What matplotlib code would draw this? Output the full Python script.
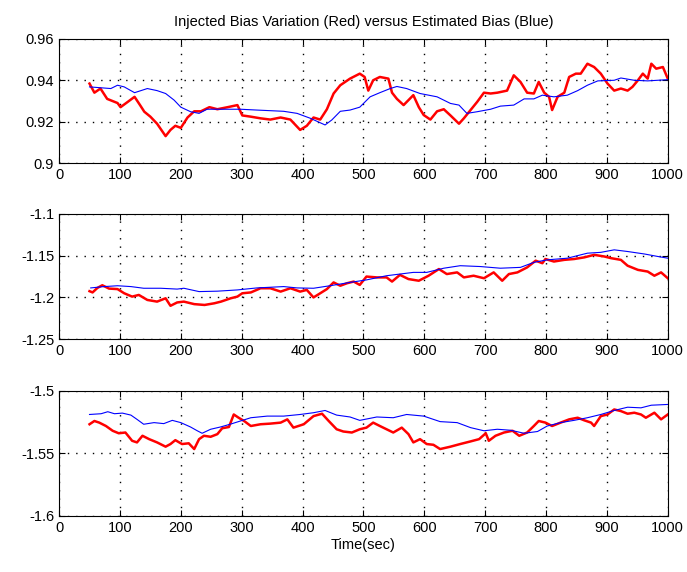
"""
Injected bias variation vs estimated bias, three stacked MATLAB-style panels
"""

import matplotlib as mpl
import matplotlib.pyplot as plt

mpl.use("Agg")

plt.rcParams["font.family"] = ["Liberation Sans Narrow", "Liberation Sans", "DejaVu Sans"]
plt.rcParams["axes.unicode_minus"] = False

# ---- panel 1 ----
red1_t = [50, 58, 68, 79, 96, 101, 113, 124, 133, 140, 150, 161, 175, 183, 191, 200,
          211, 222, 233, 247, 260, 277, 293, 301, 315, 331, 347, 364, 380, 396, 407,
          418, 429, 440, 451, 462, 478, 494, 502, 508, 516, 527, 541, 547, 555, 566,
          574, 582, 591, 599, 610, 621, 632, 643, 657, 665, 676, 687, 698, 709, 720,
          736, 747, 758, 769, 780, 788, 797, 805, 810, 819, 830, 838, 849, 857, 868,
          879, 890, 901, 912, 923, 934, 942, 951, 959, 967, 973, 981, 992, 1000]
red1_v = [0.9384, 0.934, 0.936, 0.931, 0.929, 0.927, 0.9296, 0.932, 0.928, 0.9248,
          0.9224, 0.919, 0.913, 0.916, 0.918, 0.917, 0.922, 0.925, 0.925, 0.927,
          0.926, 0.927, 0.928, 0.923, 0.9224, 0.9216, 0.921, 0.922, 0.921, 0.916,
          0.918, 0.922, 0.921, 0.926, 0.9336, 0.9376, 0.9408, 0.9432, 0.9416, 0.935,
          0.940, 0.9416, 0.9408, 0.934, 0.931, 0.928, 0.9304, 0.9328, 0.927, 0.9232,
          0.921, 0.925, 0.926, 0.923, 0.919, 0.9216, 0.9256, 0.9296, 0.934, 0.9336,
          0.934, 0.935, 0.9424, 0.9392, 0.934, 0.9336, 0.9392, 0.934, 0.932, 0.9256,
          0.932, 0.934, 0.9416, 0.9432, 0.9432, 0.948, 0.9464, 0.9432, 0.9384, 0.935,
          0.936, 0.935, 0.9368, 0.940, 0.9432, 0.9408, 0.948, 0.9456, 0.9464, 0.9408]
blue1_t = [50, 85, 96, 107, 124, 145, 161, 175, 189, 200, 216, 230, 243, 270, 298,
           325, 369, 391, 413, 437, 448, 462, 478, 494, 511, 527, 544, 555, 571, 593,
           621, 643, 657, 670, 687, 709, 725, 747, 764, 780, 794, 813, 835, 852, 868,
           885, 912, 923, 945, 967, 1000]
blue1_v = [0.9368, 0.936, 0.9376, 0.9368, 0.934, 0.936, 0.935, 0.9336, 0.9304, 0.927,
           0.9248, 0.924, 0.926, 0.926, 0.926, 0.9256, 0.925, 0.924, 0.9216, 0.9184,
           0.9208, 0.925, 0.9256, 0.927, 0.932, 0.934, 0.936, 0.937, 0.936, 0.9336,
           0.932, 0.9288, 0.928, 0.924, 0.9248, 0.926, 0.9275, 0.928, 0.931, 0.931,
           0.9328, 0.932, 0.9328, 0.935, 0.9376, 0.9397, 0.940, 0.9411, 0.940, 0.9397,
           0.9403]

# ---- panel 2 ----
red2_t = [50, 55, 63, 71, 82, 96, 107, 120, 131, 145, 161, 175, 183, 194, 205, 222,
          239, 255, 266, 282, 293, 301, 315, 331, 347, 364, 380, 396, 407, 418, 429,
          440, 451, 462, 473, 484, 494, 505, 522, 538, 547, 560, 574, 591, 607, 624,
          637, 654, 665, 681, 698, 714, 728, 739, 753, 769, 783, 794, 799, 813, 830,
          846, 863, 879, 896, 907, 923, 934, 951, 967, 978, 989, 1000]
red2_v = [-1.1925, -1.194, -1.1886, -1.1854, -1.1894, -1.190, -1.195, -1.199, -1.197,
          -1.203, -1.205, -1.201, -1.210, -1.206, -1.205, -1.208, -1.209, -1.207,
          -1.205, -1.201, -1.199, -1.195, -1.194, -1.189, -1.189, -1.193, -1.189,
          -1.193, -1.191, -1.200, -1.195, -1.190, -1.182, -1.186, -1.183, -1.181,
          -1.185, -1.175, -1.176, -1.176, -1.181, -1.173, -1.178, -1.180, -1.174,
          -1.166, -1.172, -1.170, -1.176, -1.174, -1.177, -1.170, -1.180, -1.172,
          -1.170, -1.164, -1.156, -1.159, -1.154, -1.157, -1.155, -1.154, -1.152,
          -1.149, -1.151, -1.153, -1.155, -1.162, -1.167, -1.169, -1.174, -1.170,
          -1.177]
blue2_t = [52, 74, 96, 118, 139, 167, 194, 205, 230, 260, 293, 325, 369, 391, 418,
           445, 478, 505, 538, 560, 582, 604, 632, 659, 692, 725, 758, 780, 802, 835,
           868, 890, 912, 934, 962, 984, 1000]
blue2_v = [-1.1886, -1.187, -1.186, -1.187, -1.189, -1.189, -1.190, -1.189, -1.193,
           -1.1925, -1.191, -1.1886, -1.187, -1.1886, -1.189, -1.186, -1.182, -1.179,
           -1.174, -1.172, -1.170, -1.170, -1.165, -1.162, -1.163, -1.165, -1.164,
           -1.158, -1.155, -1.153, -1.147, -1.146, -1.143, -1.145, -1.148, -1.151,
           -1.153]

# ---- panel 3 ----
red3_t = [50, 58, 66, 77, 88, 98, 109, 120, 128, 137, 148, 161, 175, 183, 191, 202,
          213, 222, 230, 238, 249, 260, 268, 279, 287, 295, 304, 315, 331, 347, 364,
          375, 385, 402, 418, 432, 443, 456, 467, 481, 494, 505, 516, 527, 538, 549,
          563, 574, 582, 593, 604, 615, 626, 643, 659, 676, 690, 701, 706, 717, 731,
          745, 756, 769, 780, 788, 799, 810, 824, 838, 852, 863, 874, 879, 890, 901,
          912, 923, 934, 945, 956, 964, 978, 989, 1000]
red3_v = [-1.5268, -1.5242, -1.5255, -1.5282, -1.532, -1.534, -1.5334, -1.540,
          -1.5413, -1.536, -1.5387, -1.5413, -1.5447, -1.5426, -1.5395, -1.5426,
          -1.542, -1.5466, -1.5387, -1.536, -1.5368, -1.5347, -1.530, -1.529, -1.519,
          -1.5216, -1.5242, -1.5282, -1.5268, -1.5263, -1.5255, -1.5229, -1.5295,
          -1.5268, -1.5203, -1.5184, -1.5242, -1.5308, -1.5326, -1.5334, -1.5308,
          -1.5295, -1.5255, -1.5282, -1.5308, -1.5334, -1.5295, -1.5347, -1.5413,
          -1.5387, -1.5426, -1.5432, -1.5466, -1.5447, -1.5426, -1.5405, -1.5387,
          -1.534, -1.540, -1.536, -1.5334, -1.532, -1.536, -1.5334, -1.5282, -1.5242,
          -1.5255, -1.5282, -1.5255, -1.5229, -1.5216, -1.5237, -1.5255, -1.5282,
          -1.5203, -1.519, -1.515, -1.5163, -1.5184, -1.5176, -1.519, -1.5216,
          -1.5176, -1.5229, -1.519]
blue3_t = [50, 69, 80, 91, 104, 118, 128, 139, 156, 172, 186, 200, 216, 227, 235,
           249, 265, 281, 298, 315, 342, 369, 396, 418, 437, 456, 478, 494, 522, 549,
           571, 599, 626, 654, 676, 698, 720, 742, 764, 786, 802, 824, 846, 868, 890,
           912, 934, 956, 973, 1000]
blue3_v = [-1.519, -1.5184, -1.5168, -1.5184, -1.5179, -1.5195, -1.5229, -1.5268,
           -1.5255, -1.5263, -1.5237, -1.5255, -1.529, -1.532, -1.534, -1.5308,
           -1.529, -1.5268, -1.5242, -1.5216, -1.5203, -1.5203, -1.519, -1.5176,
           -1.5158, -1.5195, -1.521, -1.5237, -1.521, -1.5216, -1.519, -1.5203,
           -1.5247, -1.5255, -1.5295, -1.532, -1.5308, -1.5316, -1.534, -1.5326,
           -1.5282, -1.5255, -1.5237, -1.5216, -1.519, -1.5158, -1.5132, -1.5137,
           -1.5116, -1.511]

x_ticks = [0, 100, 200, 300, 400, 500, 600, 700, 800, 900, 1000]
y_ticks = [[0.9, 0.92, 0.94, 0.96], [-1.25, -1.2, -1.15, -1.1], [-1.6, -1.55, -1.5]]
y_labels = [["0.9", "0.92", "0.94", "0.96"], ["-1.25", "-1.2", "-1.15", "-1.1"],
            ["-1.6", "-1.55", "-1.5"]]
y_limits = [(0.9, 0.96), (-1.25, -1.1), (-1.6, -1.5)]

panels = [(red1_t, red1_v, blue1_t, blue1_v),
          (red2_t, red2_v, blue2_t, blue2_v),
          (red3_t, red3_v, blue3_t, blue3_v)]

fig = plt.figure(figsize=(6.87, 5.72), dpi=100)
fig.patch.set_facecolor("white")

# axes boxes in figure fractions (left, bottom, width, height)
boxes = [(0.086, 0.715, 0.886, 0.217),
         (0.086, 0.407, 0.886, 0.219),
         (0.086, 0.098, 0.886, 0.219)]

for i, (rt, rv, bt, bv) in enumerate(panels):
    ax = fig.add_axes(boxes[i])
    ax.plot(rt, rv, color="#ff0000", linewidth=1.8)
    ax.plot(bt, bv, color="#0000ff", linewidth=0.8)
    ax.set_xlim(0, 1000)
    ax.set_ylim(*y_limits[i])
    ax.set_xticks(x_ticks)
    ax.set_xticklabels([str(t) for t in x_ticks])
    ax.set_yticks(y_ticks[i])
    ax.set_yticklabels(y_labels[i])
    # MATLAB-style sparse dotted grid
    ax.grid(True, linestyle=(0, (1, 5)), color="black", linewidth=1.0)
    ax.tick_params(direction="in", top=True, right=True, labelsize=10.5, length=4)
    for s in ax.spines.values():
        s.set_linewidth(0.8)
    if i == 0:
        ax.set_title("Injected Bias Variation (Red) versus Estimated Bias (Blue)",
                     fontsize=10.5, pad=9)
    if i == 2:
        ax.set_xlabel("Time(sec)", fontsize=10.5, labelpad=2)

plt.savefig("out.png", dpi=100, facecolor="white")
